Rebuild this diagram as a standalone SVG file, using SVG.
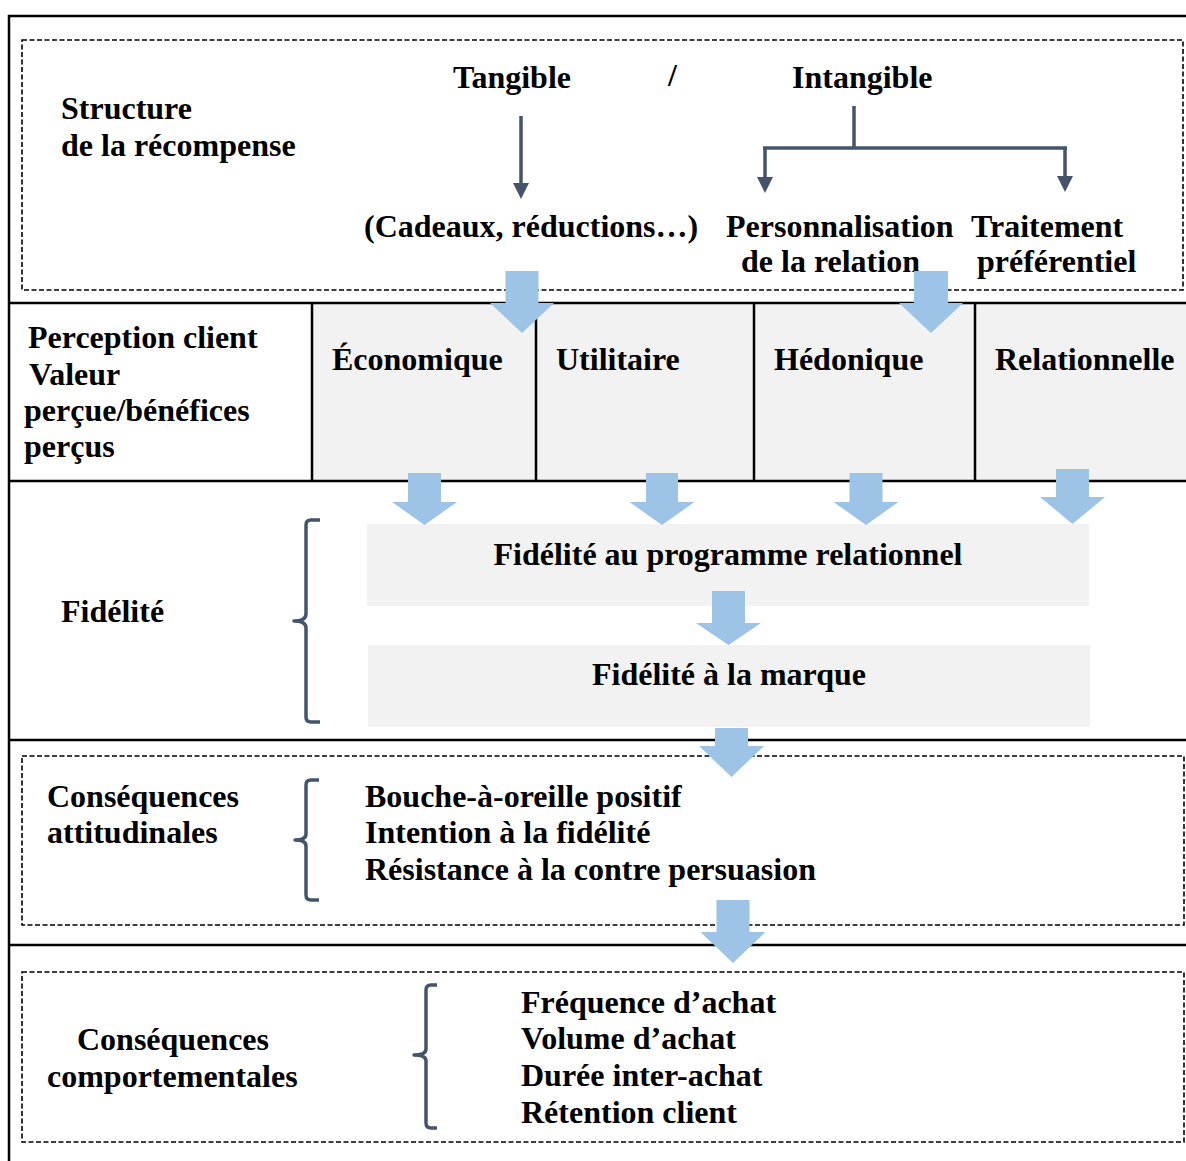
<svg xmlns="http://www.w3.org/2000/svg" width="1186" height="1161" viewBox="0 0 1186 1161">
<defs>
<style>
text{font-family:"Liberation Serif","Times New Roman",serif;font-weight:bold;font-size:32px;fill:#000}
.frame{stroke:#000;stroke-width:2.5;fill:none}
.dash{stroke:#000;stroke-width:1.6;fill:none;stroke-dasharray:5 2.5}
.cell{fill:#f2f2f2}
.blk{fill:#9dc3e6}
.dk{stroke:#44546a;stroke-width:3.5;fill:none}
.brace{stroke:#44546a;stroke-width:3.5;fill:none;stroke-linejoin:round}
</style>
<marker id="ah" viewBox="0 0 16 16" refX="0" refY="8" markerWidth="16" markerHeight="16" markerUnits="userSpaceOnUse" orient="auto">
<path d="M0,0 L16,8 L0,16 Z" fill="#44546a"/>
</marker>
</defs>
<rect width="1186" height="1161" fill="#fff"/>

<g id="frame">
<rect class="cell" x="312" y="303" width="874" height="178"/>
<path class="frame" d="M9,1161 V16 H1186"/>
<path class="frame" d="M9,303 H1186 M9,481 H1186 M9,740 H1186 M9,945 H1186"/>
<path class="frame" d="M312,303 V481 M536,303 V481 M754,303 V481 M975,303 V481" stroke-width="2"/>
<rect class="dash" x="22" y="40" width="1161" height="250"/>
<rect class="dash" x="22" y="756" width="1162" height="169"/>
<rect class="dash" x="22" y="972" width="1162" height="170"/>
</g>

<g id="structure">
<text x="61" y="119">Structure</text>
<text x="61" y="156">de la récompense</text>
</g>
<g id="tangible"><text x="453" y="88">Tangible</text></g>
<g id="slash"><text x="668" y="86">/</text></g>
<g id="intangible"><text x="792" y="88">Intangible</text></g>
<g id="cadeaux"><text x="364" y="237">(Cadeaux, réductions…)</text></g>
<g id="personnalisation">
<text x="726" y="237">Personnalisation</text>
<text x="741" y="272">de la relation</text>
</g>
<g id="traitement">
<text x="971" y="237">Traitement</text>
<text x="977" y="272">préférentiel</text>
</g>

<g id="perception">
<text x="28" y="348">Perception client</text>
<text x="29" y="385">Valeur</text>
<text x="24" y="421">perçue/bénéfices</text>
<text x="24" y="457">perçus</text>
</g>
<g id="economique"><text x="332" y="370">Économique</text></g>
<g id="utilitaire"><text x="556" y="370">Utilitaire</text></g>
<g id="hedonique"><text x="774" y="370">Hédonique</text></g>
<g id="relationnelle"><text x="995" y="370">Relationnelle</text></g>

<g id="fidelite">
<text x="61" y="622">Fidélité</text>
<path class="brace" d="M320,520 H311 Q306,520 306,525 V614 Q306,621 294,621 Q306,621 306,628 V717 Q306,722 311,722 H320"/>
</g>
<g id="fid-programme">
<rect class="cell" x="367" y="524" width="722" height="82"/>
<text x="728" y="565" text-anchor="middle">Fidélité au programme relationnel</text>
</g>
<g id="fid-marque">
<rect class="cell" x="368" y="645" width="722" height="82"/>
<text x="729" y="685" text-anchor="middle">Fidélité à la marque</text>
</g>

<g id="attitudinales">
<text x="47" y="807">Conséquences</text>
<text x="47" y="843">attitudinales</text>
<path class="brace" d="M319,780 H311 Q306,780 306,785 V834 Q306,840 295,840 Q306,840 306,846 V895 Q306,900 311,900 H319"/>
<text x="365" y="807">Bouche-à-oreille positif</text>
<text x="365" y="843">Intention à la fidélité</text>
<text x="365" y="880">Résistance à la contre persuasion</text>
</g>

<g id="comportementales">
<text x="77" y="1050">Conséquences</text>
<text x="47" y="1087">comportementales</text>
<path class="brace" d="M437,985 H431 Q426,985 426,990 V1049 Q426,1055 414,1055 Q426,1055 426,1061 V1123 Q426,1128 431,1128 H437"/>
<text x="521" y="1013">Fréquence d’achat</text>
<text x="521" y="1049">Volume d’achat</text>
<text x="521" y="1086">Durée inter-achat</text>
<text x="521" y="1123">Rétention client</text>
</g>

<g id="connectors">
<path class="dk" d="M521,116 V183" marker-end="url(#ah)"/>
<path class="dk" d="M854,106 V148 M763,148 H1067"/>
<path class="dk" d="M765,148 V177" marker-end="url(#ah)"/>
<path class="dk" d="M1065,148 V176" marker-end="url(#ah)"/>
<path class="blk" d="M505.5,271 H538.5 V303 H554 L522,333 L490,303 H505.5 Z"/>
<path class="blk" d="M914,271 H948 V303 H963 L931,333 L899,303 H914 Z"/>
<path class="blk" d="M408,473 H441 V502 H457 L424.5,525 L392,502 H408 Z"/>
<path class="blk" d="M646,473 H678 V502 H694.5 L662,525 L629.5,502 H646 Z"/>
<path class="blk" d="M849.5,473 H882.5 V502 H898.5 L866,525 L833.5,502 H849.5 Z"/>
<path class="blk" d="M1056,469 H1089 V497 H1105 L1072.5,524 L1040,497 H1056 Z"/>
<path class="blk" d="M712,591 H745 V623 H761 L728.5,645 L696,623 H712 Z"/>
<path class="blk" d="M715,728 H748 V746 H764 L731.5,777 L699,746 H715 Z"/>
<path class="blk" d="M716.5,900 H749.5 V932 H765.5 L733,963 L700.5,932 H716.5 Z"/>
</g>
</svg>
